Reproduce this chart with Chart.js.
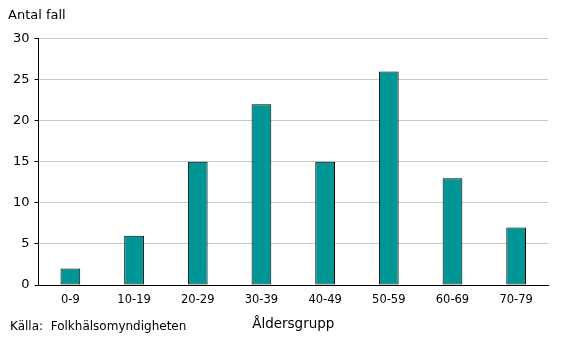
<!DOCTYPE html>
<html>
<head>
<meta charset="utf-8">
<script src="https://cdn.jsdelivr.net/npm/chart.js@4"></script>
<style>
  body { margin: 0; background: #fff; }
  #wrap { position: relative; width: 567px; height: 340px; }
  #source { position: absolute; left: 10px; top: 319px; font: 12px "DejaVu Sans", sans-serif; color: #000; }
</style>
</head>
<body>
<div id="wrap">
  <canvas id="chart" width="567" height="340"></canvas>
  <div id="source">Källa:&nbsp; Folkhälsomyndigheten</div>
</div>
<script>
// age groups and number of cases
const ageGroups = ['0-9', '10-19', '20-29', '30-39', '40-49', '50-59', '60-69', '70-79'];
const cases = [2, 6, 15, 22, 15, 26, 13, 7];

const FONT = '"DejaVu Sans", sans-serif';

const ctx = document.getElementById('chart').getContext('2d');
new Chart(ctx, {
    type: 'bar',
    data: {
        labels: ageGroups,
        datasets: [{
            data: cases,
            backgroundColor: '#009696',
            borderColor: '#000000',
            borderWidth: 1,
            borderSkipped: false,
            barPercentage: 0.62,
            categoryPercentage: 0.5
        }]
    },
    options: {
        responsive: false,
        animation: false,
        layout: { padding: { left: 8, right: 19, top: 8, bottom: 3 } },
        plugins: {
            legend: { display: false },
            tooltip: { enabled: false },
            title: {
                display: true,
                text: 'Antal fall',
                align: 'start',
                color: '#000',
                font: { family: FONT, size: 13, weight: 'normal' },
                padding: { top: 0, bottom: 15 }
            }
        },
        scales: {
            x: {
                grid: { display: false, drawTicks: false },
                border: { color: '#000', width: 1 },
                ticks: { color: '#000', font: { family: FONT, size: 11.5 }, padding: 8 },
                title: {
                    display: true,
                    text: 'Åldersgrupp',
                    color: '#000',
                    font: { family: FONT, size: 13.5 },
                    padding: { top: 2, bottom: 4 }
                }
            },
            y: {
                min: 0,
                max: 30,
                ticks: { stepSize: 5, color: '#000', font: { family: FONT, size: 13 }, padding: 5 },
                grid: { color: '#c8c8c8', tickColor: '#000', tickLength: 4 },
                border: { color: '#000', width: 1 }
            }
        }
    }
});
</script>
</body>
</html>
